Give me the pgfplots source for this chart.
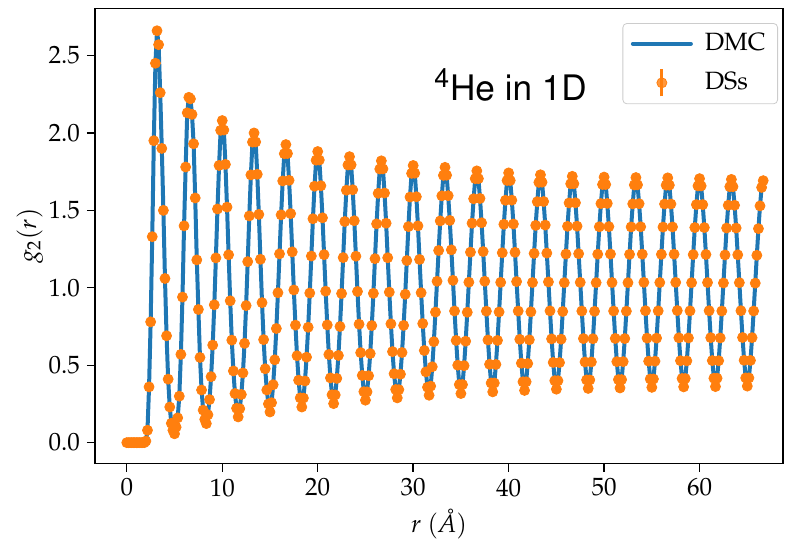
\documentclass[border=0pt]{standalone}
\usepackage[T1]{fontenc}
\usepackage{mathpazo}
\usepackage[scaled=0.95]{helvet}
\usepackage{pgfplots}
\usepackage{pgfplotstable}
\pgfplotsset{compat=1.18}
\definecolor{mplblue}{HTML}{1F77B4}
\definecolor{mplorange}{HTML}{FF7F0E}
\pgfplotstableread[row sep=\\]{
r g\\
0 0\\ 0.167 0\\ 0.333 0\\ 0.5 0\\ 0.667 0\\ 0.833 0\\ 1 0\\ 1.167 0\\ 1.333 0\\ 1.5 0\\
1.667 0\\ 1.833 0\\ 2 0.01\\ 2.167 0.08\\ 2.333 0.36\\ 2.5 0.78\\ 2.667 1.33\\ 2.833 1.95\\ 3 2.45\\ 3.167 2.66\\
3.333 2.57\\ 3.5 2.26\\ 3.667 1.90\\ 3.833 1.50\\ 4 1.06\\ 4.167 0.69\\ 4.333 0.41\\ 4.5 0.23\\ 4.667 0.125\\ 4.833 0.08\\
5 0.057\\ 5.167 0.10\\ 5.333 0.16\\ 5.5 0.30\\ 5.667 0.57\\ 5.833 0.94\\ 6 1.40\\ 6.167 1.78\\ 6.333 2.13\\ 6.5 2.23\\
6.667 2.22\\ 6.833 2.12\\ 7 1.93\\ 7.167 1.58\\ 7.333 1.18\\ 7.5 0.86\\ 7.667 0.55\\ 7.833 0.34\\ 8 0.21\\ 8.167 0.15\\
8.333 0.123\\ 8.5 0.180\\ 8.667 0.278\\ 8.833 0.426\\ 9 0.630\\ 9.167 0.890\\ 9.333 1.193\\ 9.5 1.509\\ 9.667 1.790\\ 9.833 2.017\\
10 2.08\\ 10.167 2.019\\ 10.333 1.797\\ 10.5 1.521\\ 10.667 1.213\\ 10.833 0.916\\ 11 0.662\\ 11.167 0.463\\ 11.333 0.317\\ 11.5 0.222\\
11.667 0.166\\ 11.833 0.219\\ 12 0.311\\ 12.167 0.450\\ 12.333 0.641\\ 12.5 0.885\\ 12.667 1.169\\ 12.833 1.464\\ 13 1.729\\ 13.167 1.941\\
13.333 2.00\\ 13.5 1.942\\ 13.667 1.733\\ 13.833 1.474\\ 14 1.184\\ 14.167 0.904\\ 14.333 0.665\\ 14.5 0.477\\ 14.667 0.340\\ 14.833 0.250\\
15 0.198\\ 15.167 0.258\\ 15.333 0.374\\ 15.5 0.535\\ 15.667 0.737\\ 15.833 0.968\\ 16 1.219\\ 16.167 1.471\\ 16.333 1.690\\ 16.5 1.866\\
16.667 1.925\\ 16.833 1.867\\ 17 1.694\\ 17.167 1.479\\ 17.333 1.232\\ 17.5 0.986\\ 17.667 0.759\\ 17.833 0.561\\ 18 0.403\\ 18.167 0.289\\
18.333 0.230\\ 18.5 0.288\\ 18.667 0.398\\ 18.833 0.552\\ 19 0.745\\ 19.167 0.966\\ 19.333 1.205\\ 19.5 1.446\\ 19.667 1.656\\ 19.833 1.824\\
20 1.880\\ 20.167 1.825\\ 20.333 1.659\\ 20.5 1.452\\ 20.667 1.214\\ 20.833 0.978\\ 21 0.760\\ 21.167 0.569\\ 21.333 0.418\\ 21.5 0.309\\
21.667 0.252\\ 21.833 0.308\\ 22 0.415\\ 22.167 0.563\\ 22.333 0.750\\ 22.5 0.963\\ 22.667 1.195\\ 22.833 1.428\\ 23 1.630\\ 23.167 1.793\\
23.333 1.847\\ 23.5 1.794\\ 23.667 1.633\\ 23.833 1.433\\ 24 1.204\\ 24.167 0.976\\ 24.333 0.765\\ 24.5 0.581\\ 24.667 0.434\\ 24.833 0.329\\
25 0.274\\ 25.167 0.328\\ 25.333 0.432\\ 25.5 0.575\\ 25.667 0.756\\ 25.833 0.964\\ 26 1.188\\ 26.167 1.413\\ 26.333 1.610\\ 26.5 1.767\\
26.667 1.820\\ 26.833 1.768\\ 27 1.612\\ 27.167 1.417\\ 27.333 1.194\\ 27.5 0.972\\ 27.667 0.767\\ 27.833 0.588\\ 28 0.445\\ 28.167 0.343\\
28.333 0.289\\ 28.5 0.342\\ 28.667 0.442\\ 28.833 0.582\\ 29 0.757\\ 29.167 0.958\\ 29.333 1.176\\ 29.5 1.395\\ 29.667 1.586\\ 29.833 1.739\\
30 1.790\\ 30.167 1.740\\ 30.333 1.588\\ 30.5 1.400\\ 30.667 1.183\\ 30.833 0.968\\ 31 0.769\\ 31.167 0.595\\ 31.333 0.457\\ 31.5 0.358\\
31.667 0.306\\ 31.833 0.365\\ 32 0.490\\ 32.167 0.652\\ 32.333 0.843\\ 32.5 1.042\\ 32.667 1.241\\ 32.833 1.432\\ 33 1.594\\ 33.167 1.726\\
33.333 1.778\\ 33.5 1.727\\ 33.667 1.595\\ 33.833 1.435\\ 34 1.245\\ 34.167 1.048\\ 34.333 0.850\\ 34.5 0.660\\ 34.667 0.500\\ 34.833 0.375\\
35 0.317\\ 35.167 0.375\\ 35.333 0.497\\ 35.5 0.655\\ 35.667 0.842\\ 35.833 1.036\\ 36 1.230\\ 36.167 1.417\\ 36.333 1.575\\ 36.5 1.705\\
36.667 1.755\\ 36.833 1.705\\ 37 1.577\\ 37.167 1.420\\ 37.333 1.234\\ 37.5 1.042\\ 37.667 0.849\\ 37.833 0.663\\ 38 0.506\\ 38.167 0.385\\
38.333 0.328\\ 38.5 0.385\\ 38.667 0.505\\ 38.833 0.660\\ 39 0.844\\ 39.167 1.035\\ 39.333 1.226\\ 39.5 1.410\\ 39.667 1.565\\ 39.833 1.693\\
40 1.742\\ 40.167 1.693\\ 40.333 1.566\\ 40.5 1.412\\ 40.667 1.229\\ 40.833 1.040\\ 41 0.850\\ 41.167 0.667\\ 41.333 0.513\\ 41.5 0.393\\
41.667 0.337\\ 41.833 0.393\\ 42 0.511\\ 42.167 0.664\\ 42.333 0.845\\ 42.5 1.034\\ 42.667 1.222\\ 42.833 1.403\\ 43 1.556\\ 43.167 1.681\\
43.333 1.730\\ 43.5 1.682\\ 43.667 1.557\\ 43.833 1.405\\ 44 1.224\\ 44.167 1.038\\ 44.333 0.851\\ 44.5 0.670\\ 44.667 0.518\\ 44.833 0.400\\
45 0.345\\ 45.167 0.400\\ 45.333 0.517\\ 45.5 0.668\\ 45.667 0.847\\ 45.833 1.033\\ 46 1.218\\ 46.167 1.397\\ 46.333 1.548\\ 46.5 1.672\\
46.667 1.720\\ 46.833 1.672\\ 47 1.549\\ 47.167 1.398\\ 47.333 1.220\\ 47.5 1.035\\ 47.667 0.850\\ 47.833 0.672\\ 48 0.521\\ 48.167 0.405\\
48.333 0.350\\ 48.5 0.405\\ 48.667 0.521\\ 48.833 0.671\\ 49 0.848\\ 49.167 1.033\\ 49.333 1.217\\ 49.5 1.394\\ 49.667 1.544\\ 49.833 1.667\\
50 1.715\\ 50.167 1.667\\ 50.333 1.545\\ 50.5 1.395\\ 50.667 1.218\\ 50.833 1.034\\ 51 0.850\\ 51.167 0.673\\ 51.333 0.523\\ 51.5 0.407\\
51.667 0.353\\ 51.833 0.407\\ 52 0.523\\ 52.167 0.672\\ 52.333 0.849\\ 52.5 1.033\\ 52.667 1.216\\ 52.833 1.393\\ 53 1.542\\ 53.167 1.664\\
53.333 1.712\\ 53.5 1.665\\ 53.667 1.543\\ 53.833 1.394\\ 54 1.217\\ 54.167 1.035\\ 54.333 0.852\\ 54.5 0.675\\ 54.667 0.526\\ 54.833 0.411\\
55 0.357\\ 55.167 0.411\\ 55.333 0.526\\ 55.5 0.675\\ 55.667 0.851\\ 55.833 1.034\\ 56 1.216\\ 56.167 1.392\\ 56.333 1.541\\ 56.5 1.663\\
56.667 1.710\\ 56.833 1.663\\ 57 1.541\\ 57.167 1.393\\ 57.333 1.217\\ 57.5 1.035\\ 57.667 0.853\\ 57.833 0.677\\ 58 0.529\\ 58.167 0.414\\
58.333 0.360\\ 58.5 0.414\\ 58.667 0.528\\ 58.833 0.676\\ 59 0.851\\ 59.167 1.033\\ 59.333 1.214\\ 59.5 1.389\\ 59.667 1.537\\ 59.833 1.658\\
60 1.705\\ 60.167 1.658\\ 60.333 1.537\\ 60.5 1.389\\ 60.667 1.215\\ 60.833 1.034\\ 61 0.852\\ 61.167 0.678\\ 61.333 0.530\\ 61.5 0.416\\
61.667 0.362\\ 61.833 0.416\\ 62 0.529\\ 62.167 0.676\\ 62.333 0.850\\ 62.5 1.031\\ 62.667 1.212\\ 62.833 1.386\\ 63 1.533\\ 63.167 1.653\\
63.333 1.700\\ 63.5 1.653\\ 63.667 1.533\\ 63.833 1.386\\ 64 1.213\\ 64.167 1.033\\ 64.333 0.852\\ 64.5 0.679\\ 64.667 0.532\\ 64.833 0.418\\
65 0.365\\ 65.167 0.418\\ 65.333 0.531\\ 65.5 0.678\\ 65.667 0.850\\ 65.833 1.030\\ 66 1.210\\ 66.167 1.382\\ 66.333 1.529\\ 66.5 1.648\\
66.667 1.692\\
}\gtwo
\begin{document}
\begin{tikzpicture}
\begin{axis}[
  scale only axis,
  width=344pt, height=227.7pt,
  xmin=-3.33, xmax=68.74,
  ymin=-0.136, ymax=2.805,
  xtick={0,10,20,30,40,50,60},
  ytick={0,0.5,1,1.5,2,2.5},
  yticklabel style={/pgf/number format/fixed,/pgf/number format/fixed zerofill,/pgf/number format/precision=1},
  tick label style={font=\fontsize{12.5}{15}\selectfont},
  label style={font=\fontsize{12.5}{15}\selectfont},
  tick align=outside, major tick length=4pt,
  xtick pos=lower, ytick pos=left,
  tick style={line width=0.7pt, black},
  axis line style={line width=0.7pt},
  xlabel={$r\ (\mbox{\itshape\AA})$},
  ylabel={$g_2(r)$},
  ylabel shift=-4pt,
  clip=false,
  legend cell align=left,
  legend style={at={(rel axis cs:1,1)}, anchor=north east, xshift=-2.5pt, yshift=-7.4pt,
    draw=black!20, rounded corners=2pt, fill=white, fill opacity=0.8, text opacity=1,
    font=\fontsize{12.5}{15}\selectfont, inner xsep=4pt, inner ysep=3pt, row sep=5pt,
    /tikz/every odd column/.append style={column sep=4pt}},
]
\addplot[mplblue, line width=2pt, line join=round, line cap=round, mark=none,
  legend image code/.code={\draw[mplblue, line width=2pt] (0pt,0pt) -- (29pt,0pt);}]
  table[x=r, y=g] {\gtwo};
\addlegendentry{DMC}
\addplot[only marks, mark=*, mark size=2.5pt, mplorange, mark options={draw=mplorange, fill=mplorange},
  legend image code/.code={\draw[mplorange, line width=1.5pt] (14.5pt,-6.75pt) -- (14.5pt,6.75pt); \fill[mplorange] (14.5pt,0pt) circle (2.5pt);}]
  table[x=r, y=g] {\gtwo};
\addlegendentry{DSs}
\node[font=\sffamily\fontsize{18.5}{22}\selectfont, inner sep=0pt, anchor=center] at (axis cs:40.2,2.31) {\textsuperscript{4}He in 1D};
\end{axis}
\pgfresetboundingbox
\useasboundingbox ([shift={(-47.5pt,-38.65pt)}]current axis.south west) rectangle ([shift={(4.5pt,4.15pt)}]current axis.north east);
\end{tikzpicture}
\end{document}
